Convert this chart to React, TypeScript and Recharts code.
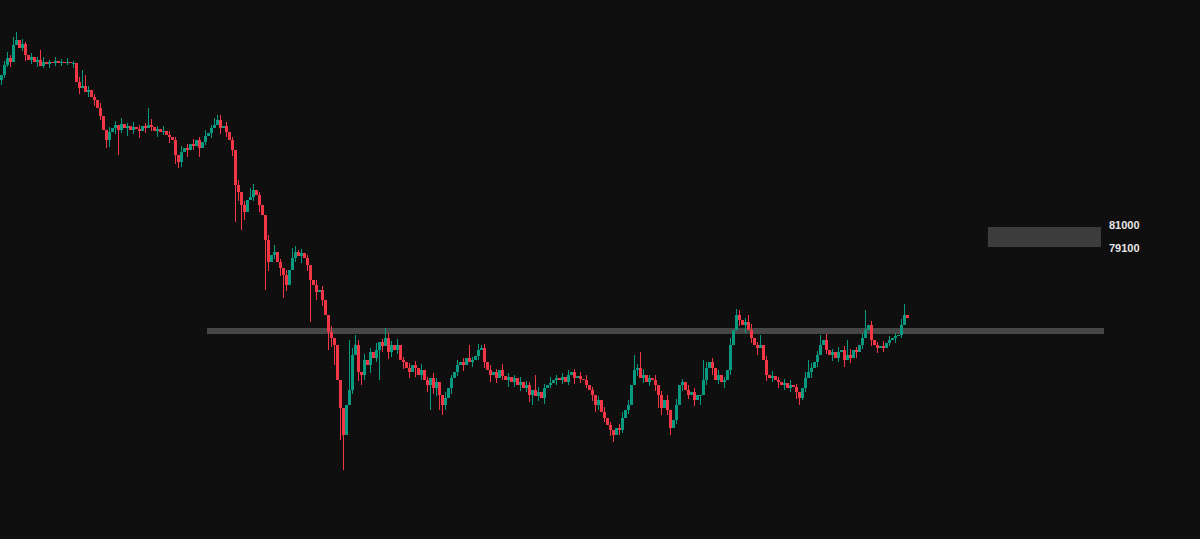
import { ComposedChart, Bar, XAxis, YAxis, ReferenceLine, ReferenceArea } from "recharts";

// close prices, one per candle (open = previous close)
const closes = [
  95440, 96390, 97055, 96675, 98290, 98765, 98005, 98385, 97340, 96865,
  97150, 96675, 96865, 96295, 96675, 96485, 96675, 96580, 96770, 96580,
  96675, 96580, 96675, 96580, 96580, 94775, 94205, 94395, 93825, 94015,
  93350, 93065, 92305, 91545, 90215, 89265, 90025, 90405, 90690, 90215,
  90785, 90405, 90595, 90215, 90500, 90310, 90120, 90595, 90405, 90690,
  90500, 90120, 90310, 90025, 90120, 89740, 89550, 89265, 87840, 87175,
  88125, 88505, 88315, 88885, 88695, 89265, 88505, 89075, 89645, 89930,
  90405, 90690, 91165, 90405, 90595, 90025, 89265, 88315, 84990, 84325,
  83090, 82425, 83565, 83850, 84515, 84040, 83090, 82140, 79765, 77675,
  78340, 78625, 77675, 77105, 76440, 75490, 76915, 78055, 78625, 78245,
  78530, 78055, 77390, 75965, 75490, 74825, 75015, 74065, 72640, 71025,
  70455, 69790, 66465, 63805, 61240, 64090, 65515, 68840, 69790, 67225,
  66940, 68365, 67890, 69125, 68555, 69315, 70075, 69695, 70455, 69125,
  69790, 69315, 69790, 68365, 68175, 67605, 67225, 67890, 67605, 66940,
  67415, 66465, 65990, 66655, 65705, 66275, 65040, 64090, 64755, 65705,
  66655, 67225, 67890, 68175, 67890, 68555, 68175, 68365, 68745, 69315,
  69505, 68175, 67415, 66940, 67225, 66655, 67415, 66845, 66465, 66750,
  66275, 66655, 65990, 66275, 65705, 65990, 65040, 65515, 64945, 65325,
  64755, 65705, 65990, 66180, 66465, 66655, 66465, 66750, 66275, 66940,
  67225, 66655, 66845, 66560, 66465, 65990, 65515, 65040, 64090, 64565,
  63425, 62855, 62190, 61715, 61240, 61905, 61715, 62855, 63615, 64090,
  65990, 67415, 67605, 66655, 66940, 66275, 66655, 66465, 65990, 65040,
  63805, 64565, 63615, 61905, 62665, 64090, 65990, 66275, 65515, 65040,
  65325, 64565, 65040, 65040, 66465, 67605, 68175, 67605, 66465, 66940,
  66275, 66465, 67415, 69790, 71215, 72640, 72165, 71690, 71975, 71215,
  70455, 69790, 69505, 69790, 68365, 66940, 66655, 66845, 66465, 66275,
  65990, 66180, 65705, 65990, 65800, 65325, 64755, 65705, 66655, 67225,
  67605, 68175, 68840, 69790, 70265, 69315, 68840, 69125, 68555, 69125,
  69315, 68365, 68840, 68555, 69315, 69125, 69790, 70455, 71215, 71690,
  70265, 69790, 69505, 69695, 69505, 69980, 70265, 70455, 70645, 70740,
  71690, 72640, 72355,
];
const firstOpen = 94965;

// [candle index, price] for the longer wicks
const wickHighs: [number, number][] = [
  [4, 99050], [5, 99525], [13, 97815], [27, 95915], [28, 95440], [49, 92305],
  [71, 91355], [72, 91640], [83, 84705], [97, 78985], [99, 78815], [116, 70265],
  [118, 70740], [128, 71405], [156, 69790], [160, 69790], [178, 66940], [211, 68840],
  [213, 69125], [234, 68365], [245, 73210], [249, 72640], [253, 70740], [269, 68365],
  [273, 70740], [282, 70265], [288, 73115], [289, 71690], [301, 73685],
];
const wickLows: [number, number][] = [
  [0, 94500], [35, 88505], [39, 87840], [59, 86605], [78, 81475], [80, 80715],
  [88, 75015], [94, 74255], [103, 71975], [109, 69315], [111, 67890], [113, 60765],
  [114, 57915], [115, 62665], [120, 65990], [126, 66465], [143, 63615], [146, 63615],
  [147, 63140], [177, 64090], [198, 63425], [204, 60575], [205, 61240], [219, 63805],
  [223, 61240], [233, 64090], [266, 64090], [267, 64565],
];

// [candle index, wick above body, wick below body] for the short wicks
const shortWicks: [number, number, number][] = [
  [1, 400, 300], [2, 600, 200], [3, 300, 500], [7, 500, 300], [8, 200, 600], [10, 400, 400],
  [12, 300, 500], [14, 500, 200], [16, 200, 400], [18, 400, 300], [20, 300, 300], [22, 400, 200],
  [24, 200, 500], [26, 500, 600], [29, 400, 500], [31, 300, 600], [33, 500, 400],
  [36, 500, 700], [38, 400, 600], [40, 600, 300], [42, 300, 800], [44, 500, 400], [46, 400, 700],
  [48, 300, 500], [50, 600, 400], [52, 300, 600], [54, 500, 300], [56, 400, 600], [58, 300, 900],
  [60, 600, 500], [62, 400, 700], [64, 500, 400], [66, 300, 900], [68, 600, 300], [70, 300, 500],
  [73, 500, 600], [75, 400, 500], [77, 300, 600], [79, 500, 900], [81, 400, 800], [84, 600, 400],
  [86, 300, 700], [89, 500, 900], [91, 700, 400], [93, 300, 800], [95, 500, 600], [98, 600, 400],
  [100, 400, 700], [102, 300, 600], [105, 500, 800], [107, 400, 600], [110, 600, 900],
  [117, 700, 400], [119, 500, 900], [121, 600, 500], [123, 400, 800], [125, 700, 400], [127, 300, 600],
  [129, 500, 700], [130, 400, 500], [132, 600, 400], [134, 300, 700], [136, 500, 600], [138, 400, 900],
  [140, 600, 500], [142, 300, 700], [144, 500, 600], [145, 400, 800], [148, 600, 500], [150, 300, 600],
  [152, 500, 400], [154, 400, 600], [157, 300, 500], [159, 600, 400], [161, 400, 600], [163, 500, 700],
  [165, 300, 500], [167, 600, 400], [169, 400, 700], [171, 300, 500], [173, 500, 600], [175, 400, 400],
  [176, 300, 700], [179, 500, 500], [181, 400, 600], [183, 600, 300], [185, 300, 500], [187, 400, 400],
  [189, 500, 300], [191, 300, 600], [193, 400, 400], [195, 500, 300], [197, 300, 600], [199, 400, 500],
  [201, 500, 400], [203, 300, 600], [206, 400, 500], [207, 600, 300], [209, 500, 400], [212, 400, 600],
  [214, 600, 500], [216, 300, 400], [218, 500, 600], [220, 400, 700], [222, 500, 500], [225, 600, 400],
  [227, 300, 600], [229, 500, 400], [231, 400, 600], [235, 600, 500], [237, 400, 700], [239, 500, 400],
  [241, 300, 600], [243, 700, 500], [246, 500, 600], [248, 400, 800], [250, 600, 500], [252, 300, 700],
  [255, 400, 600], [257, 500, 400], [259, 300, 600], [261, 400, 500], [263, 500, 400], [265, 300, 700],
  [268, 600, 400], [270, 500, 600], [272, 400, 500], [275, 600, 400], [277, 300, 600], [279, 500, 400],
  [281, 400, 700], [283, 600, 500], [285, 300, 600], [287, 500, 400], [290, 400, 600], [292, 300, 500],
  [294, 500, 400], [296, 400, 300], [298, 300, 500], [300, 600, 300],
];

const zoneTop = 81000;
const zoneBottom = 79100;
const levelPrice = 71120;

const Y_MIN = 51360;
const Y_MAX = 102565;

const UP = "#089981";
const DOWN = "#f23645";

const hiMap = new Map(wickHighs);
const loMap = new Map(wickLows);
const shortMap = new Map(shortWicks.map(([i, up, down]) => [i, [up, down]]));

const candles = closes.map((close, i) => {
  const open = i === 0 ? firstOpen : closes[i - 1];
  const [up, down] = shortMap.get(i) ?? [0, 0];
  const high = Math.max(Math.max(open, close) + up, hiMap.get(i) ?? -Infinity);
  const low = Math.min(Math.min(open, close) - down, loMap.get(i) ?? Infinity);
  return { i, open, close, high, low, range: [low, high] };
});

function Candle(props: any) {
  const { x, y, width, height, payload } = props;
  if (x == null || y == null) return null;
  const top = Math.min(y, y + height);
  const h = Math.abs(height);
  const span = payload.high - payload.low;
  const k = span > 0 ? h / span : 0;
  const bodyTop = top + (payload.high - Math.max(payload.open, payload.close)) * k;
  const bodyH = Math.max(1, Math.abs(payload.open - payload.close) * k);
  const color = payload.close >= payload.open ? UP : DOWN;
  const bx = Math.round(x + width / 2 - 1.5);
  return (
    <g shapeRendering="crispEdges">
      <rect x={bx + 1} y={top} width={1} height={Math.max(1, h)} fill={color} />
      <rect x={bx} y={bodyTop} width={3} height={bodyH} fill={color} />
    </g>
  );
}

function ZoneLabels({ viewBox }: any) {
  if (!viewBox) return null;
  const tx = viewBox.x + viewBox.width + 8;
  return (
    <g fontFamily="'Liberation Sans', Arial, sans-serif" fontSize={11} fontWeight={700} fill="#e6e6e6">
      <text x={tx} y={viewBox.y - 1} dominantBaseline="middle">{zoneTop}</text>
      <text x={tx} y={viewBox.y + viewBox.height + 2} dominantBaseline="middle">{zoneBottom}</text>
    </g>
  );
}

export default function App() {
  return (
    <div style={{ position: "absolute", left: 0, top: 0, width: 1200, height: 539, background: "#0f0f0f" }}>
      <ComposedChart width={1200} height={539} data={candles} margin={{ top: 0, right: 0, bottom: 0, left: 0 }}>
        <XAxis type="number" dataKey="i" domain={[-0.5, 399.5]} hide />
        <YAxis type="number" domain={[Y_MIN, Y_MAX]} allowDataOverflow hide />
        <ReferenceArea
          x1={328.8}
          x2={366.5}
          y1={zoneBottom}
          y2={zoneTop}
          fill="#3c3c3c"
          fillOpacity={1}
          ifOverflow="visible"
          label={(p: any) => <ZoneLabels viewBox={p.viewBox} />}
        />
        <ReferenceLine
          segment={[{ x: 68.5, y: levelPrice }, { x: 367.5, y: levelPrice }]}
          stroke="#474747"
          strokeWidth={6}
          ifOverflow="visible"
          {...({ zIndex: 50 } as any)}
        />
        <Bar dataKey="range" barSize={3} shape={<Candle />} isAnimationActive={false} />
      </ComposedChart>
    </div>
  );
}
